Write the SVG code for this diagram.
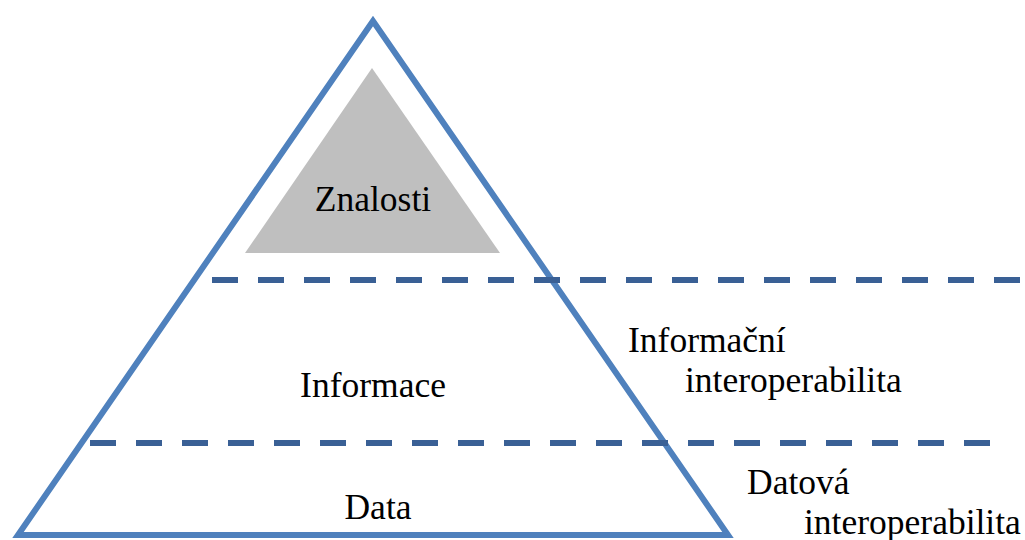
<svg xmlns="http://www.w3.org/2000/svg" width="1025" height="540" viewBox="0 0 1025 540">
<style>
.t{font-family:"Liberation Serif","Times New Roman",serif;font-size:35.5px;fill:#000}
.dash{stroke:#3A6095;stroke-width:6;stroke-dasharray:26 20;fill:none}
</style>
<rect width="1025" height="540" fill="#fff"/>
<g id="pyramid">
<path d="M373,21 L18,535 L728,535 Z" fill="none" stroke="#4F81BD" stroke-width="6" stroke-linejoin="miter"/>
</g>
<g id="znalosti">
<path d="M372,68 L245,253 L500,253 Z" fill="#BFBFBF"/>
<text class="t" x="373" y="211" text-anchor="middle">Znalosti</text>
</g>
<g id="connectors">
<line class="dash" x1="212" y1="280" x2="1025" y2="280"/>
<line class="dash" x1="90" y1="443" x2="1000" y2="443"/>
</g>
<g id="informace"><text class="t" x="373" y="397" text-anchor="middle">Informace</text></g>
<g id="data"><text class="t" x="378" y="519" text-anchor="middle">Data</text></g>
<g id="info-interop">
<text class="t" x="628" y="352">Informační</text>
<text class="t" x="685" y="392">interoperabilita</text>
</g>
<g id="data-interop">
<text class="t" x="747" y="494">Datová</text>
<text class="t" x="804" y="534">interoperabilita</text>
</g>
</svg>
